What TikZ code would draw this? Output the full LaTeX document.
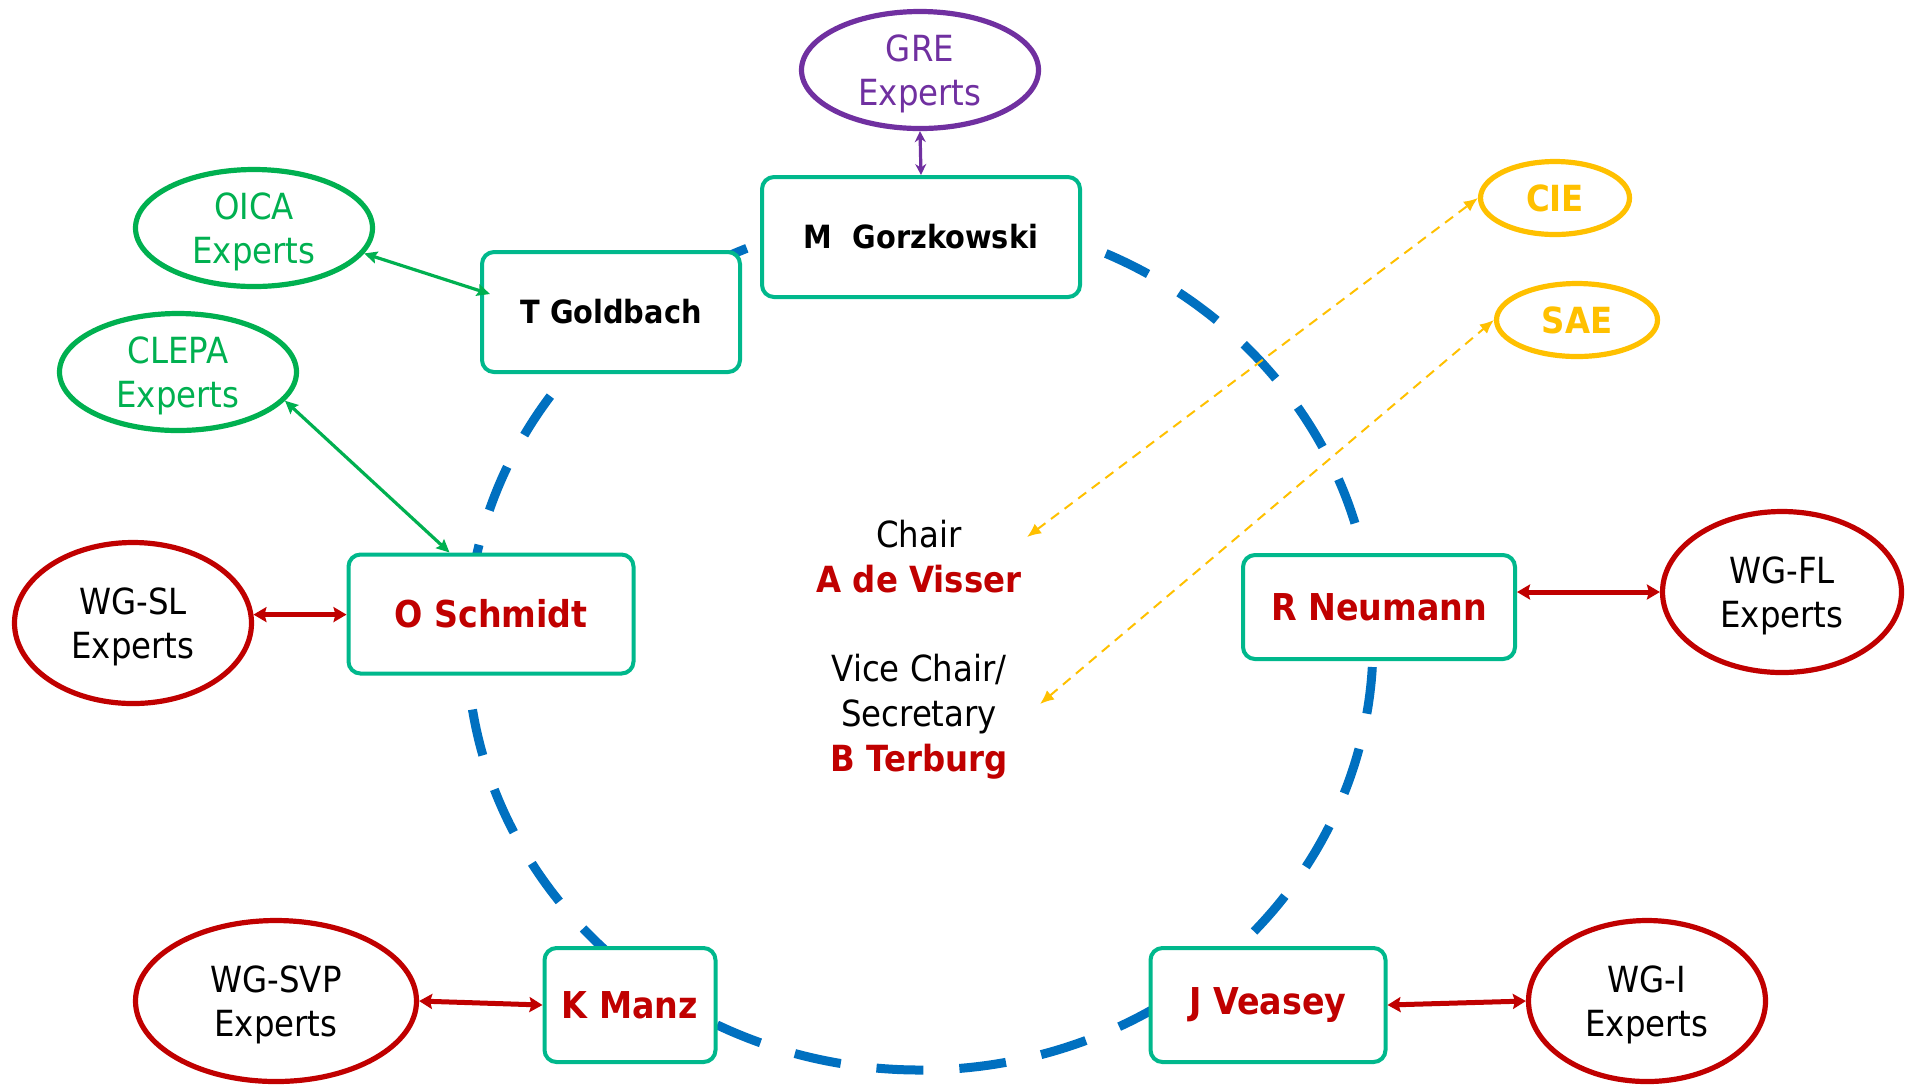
\documentclass[tikz,border=0pt]{standalone}
\usepackage{fontspec}
\setmainfont{DejaVu Sans}[FakeStretch=0.9]
\usetikzlibrary{shapes.geometric,arrows.meta,calc}
\definecolor{boxteal}{RGB}{0,184,140}
\definecolor{ringblue}{RGB}{0,112,192}
\definecolor{oicagreen}{RGB}{0,176,80}
\definecolor{grepurple}{RGB}{112,48,160}
\definecolor{gold}{RGB}{255,192,0}
\definecolor{redc}{RGB}{192,0,0}
\newcommand\lowtext[1]{\raisebox{-2.2pt}[\height][\depth]{\begin{tabular}{@{}c@{}}#1\end{tabular}}}
\begin{document}
\begin{tikzpicture}[x=0.5pt,y=-0.5pt,
  member/.style={draw=boxteal, line width=2pt, fill=white, rounded corners=6pt,
    inner sep=0pt, align=center},
  blackname/.style={member, font=\fontsize{16}{19}\selectfont\bfseries, text=black},
  redname/.style={member, font=\fontsize{18.5}{22}\selectfont\bfseries, text=redc},
  expert/.style={ellipse, line width=2.6pt, inner sep=-12pt, align=center,
    font=\fontsize{18}{22}\selectfont},
  wgexp/.style={expert, draw=redc, text=black, minimum height=80.5pt},
  greenexp/.style={expert, draw=oicagreen, text=oicagreen, minimum width=118.5pt, minimum height=58.5pt},
  goldexp/.style={expert, draw=gold, text=gold, font=\fontsize{18}{22}\selectfont\bfseries, minimum height=36.5pt},
  redlink/.style={draw=redc, line width=2.5pt, arrows={Stealth[length=6.5pt,width=7.5pt,inset=1pt]-Stealth[length=6.5pt,width=7.5pt,inset=1pt]}},
  greenlink/.style={draw=oicagreen, line width=1.6pt, arrows={Stealth[length=6.5pt,width=6pt,inset=1pt]-Stealth[length=6.5pt,width=6pt,inset=1pt]}},
  purplelink/.style={draw=grepurple, line width=1.6pt, arrows={Stealth[length=5.5pt,width=5.5pt]-Stealth[length=5.5pt,width=5.5pt]}},
  goldlink/.style={draw=gold, line width=1pt, dash pattern=on 5pt off 3.5pt,
    arrows={Latex[length=7pt,width=6pt]-Latex[length=7pt,width=6pt]}},
  ring/.style={draw=ringblue, line width=4.5pt, dash pattern=on 23.5pt off 18pt, dash phase=29.5pt},
  centertext/.style={align=center, font=\fontsize{18}{22.5}\selectfont}
]
\useasboundingbox (0,0) rectangle (1914,1084);

% blue dashed ring
\draw[ring] (920,643) ellipse [x radius=453, y radius=427];

% member boxes
\node[blackname, minimum width=159pt, minimum height=60pt] (gorz) at (921,237) {M\ \ Gorzkowski};
\node[blackname, minimum width=129pt, minimum height=60pt] (goldbach) at (611,312) {T Goldbach};
\node[redname, minimum width=142.5pt, minimum height=59.5pt] (schmidt) at (491,614) {O Schmidt};
\node[redname, minimum width=136pt, minimum height=52pt] (neumann) at (1379,607) {R Neumann};
\node[redname, minimum width=85.5pt, minimum height=57pt] (manz) at (630,1005) {K Manz};
\node[redname, minimum width=117.5pt, minimum height=57pt] (veasey) at (1268,1005) {J Veasey};

% expert ellipses
\node[expert, draw=grepurple, text=grepurple, minimum width=118.5pt, minimum height=58.5pt] (gre) at (920,70) {\lowtext{GRE\\Experts}};
\node[greenexp] (oica) at (254,228) {\lowtext{OICA\\Experts}};
\node[greenexp] (clepa) at (178,372) {\lowtext{CLEPA\\Experts}};
\node[wgexp, minimum width=118.5pt] (wgsl) at (133,623) {\lowtext{WG-SL\\Experts}};
\node[wgexp, minimum width=119.5pt] (wgfl) at (1782,592) {\lowtext{WG-FL\\Experts}};
\node[wgexp, minimum width=140.5pt] (wgsvp) at (276,1001) {\lowtext{WG-SVP\\Experts}};
\node[wgexp, minimum width=118.5pt] (wgi) at (1647,1001) {\lowtext{WG-I\\Experts}};
\node[goldexp, minimum width=74.5pt] (cie) at (1555,198) {CIE};
\node[goldexp, minimum width=80.5pt] (sae) at (1577,320) {SAE};

% centre texts
\node[centertext] (chair) at (919,557) {Chair\\\textcolor{redc}{\bfseries A de Visser}};
\node[centertext] (vice) at (919,717) {Vice Chair/\\Secretary\\\textcolor{redc}{\bfseries B Terburg}};
\coordinate (cietip) at (1027,537);
\coordinate (saetip) at (1040,704);

% connectors
\draw[purplelink] (gre.south) -- (gorz.north);
\draw[greenlink] (oica.-13) -- ($(goldbach.west)+(10,-18)$);
\draw[greenlink] (clepa.-15) -- ($(schmidt.north west)+(103,0)$);
\draw[redlink] (wgsl.4) -- (wgsl.4 -| schmidt.west);
\draw[redlink] (neumann.east |- wgfl.west) -- (wgfl.west);
\draw[redlink] (wgsvp.east) -- (manz.west);
\draw[redlink] (veasey.east) -- (wgi.west);
\draw[goldlink] (cietip) -- (cie.west);
\draw[goldlink] (saetip) -- (sae.west);
\end{tikzpicture}
\end{document}
